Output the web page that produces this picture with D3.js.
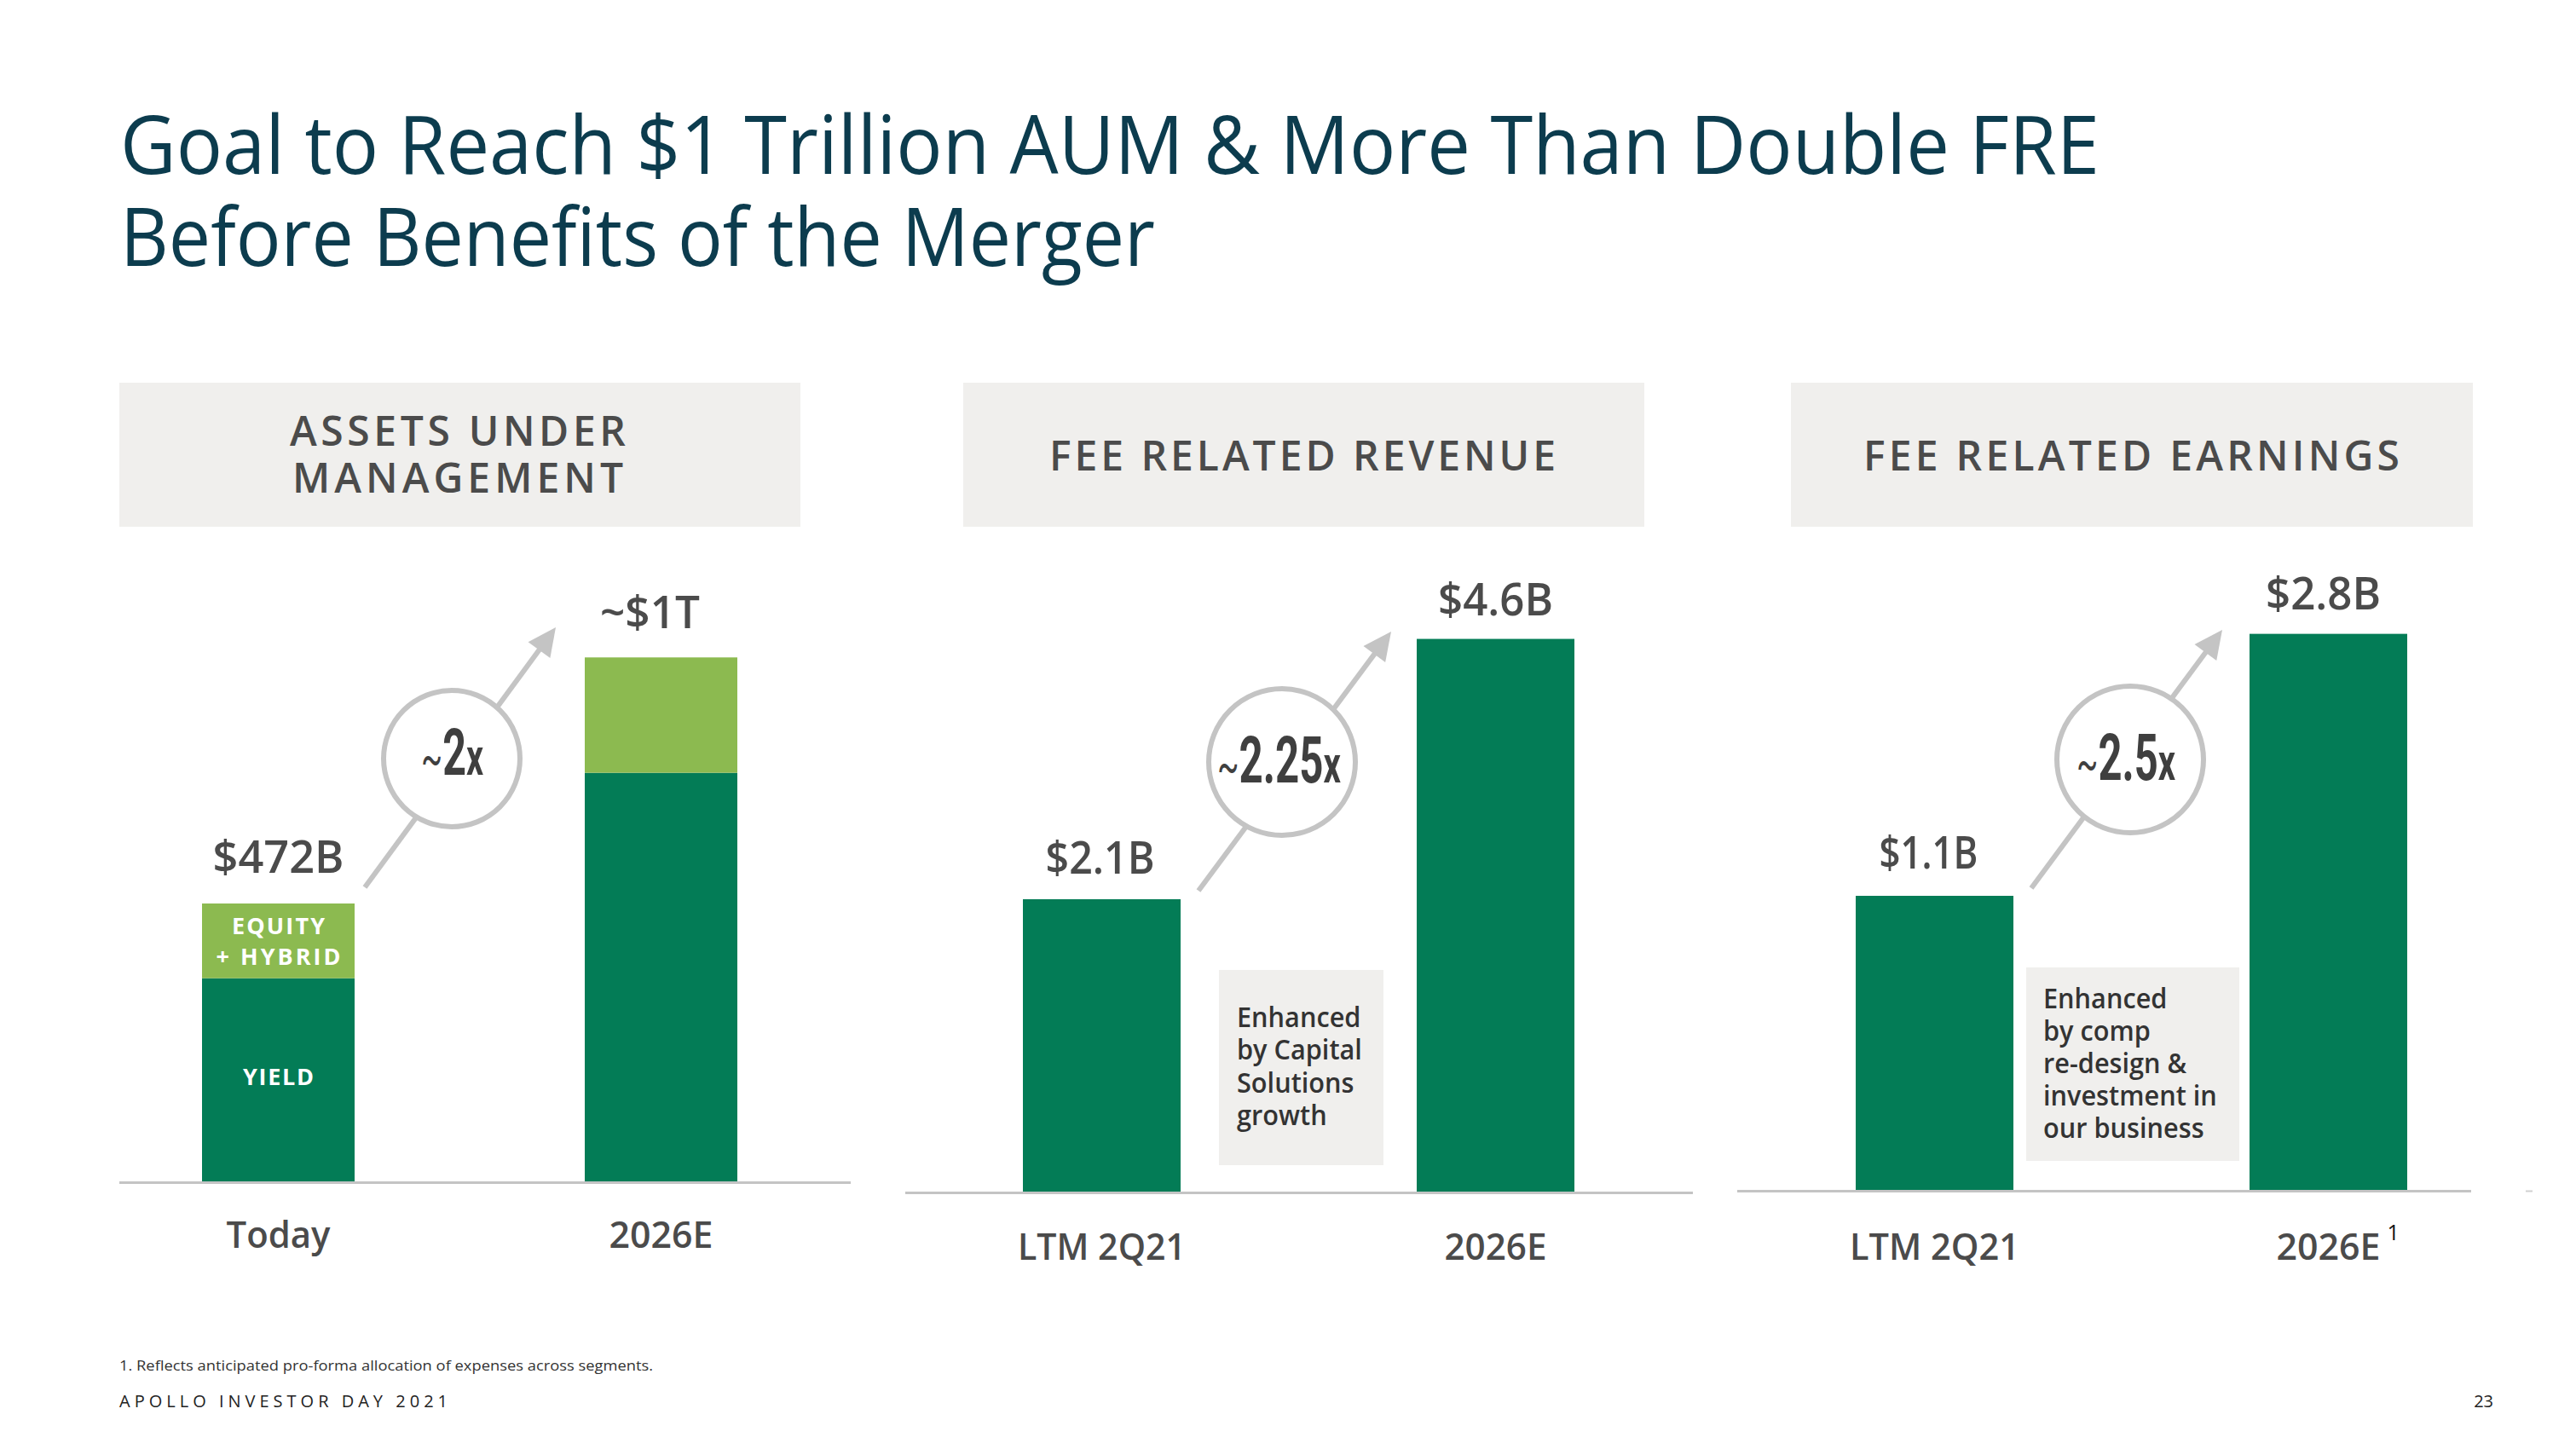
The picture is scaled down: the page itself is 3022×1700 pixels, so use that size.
<!DOCTYPE html>
<html><head><meta charset="utf-8">
<script src="https://cdn.jsdelivr.net/npm/d3@7"></script>
<style>
html,body{margin:0;padding:0;background:#fff;}
svg{display:block;}
</style></head><body>
<svg id="chart" width="3022" height="1700"></svg>
<script>
// ---------------- DATA ----------------
const titleLines = ["Goal to Reach $1 Trillion AUM & More Than Double FRE", "Before Benefits of the Merger"];

const aumCategories = ["Today", "2026E"];
const aumYield = [345, 694];          // dark green segment (as drawn)
const aumEquityHybrid = [127, 196];   // light green segment (as drawn)
const aumLabels = ["$472B", "~$1T"];
const aumMultiple = "2";

const frrCategories = ["LTM 2Q21", "2026E"];
const frrValues = [2.1, 3.97];        // bar heights as drawn
const frrLabels = ["$2.1B", "$4.6B"];
const frrMultiple = "2.25";

const freCategories = ["LTM 2Q21", "2026E"];
const freValues = [1.1, 2.08];        // bar heights as drawn
const freLabels = ["$1.1B", "$2.8B"];
const freMultiple = "2.5";

const panelTitles = [["ASSETS UNDER", "MANAGEMENT"], ["FEE RELATED REVENUE"], ["FEE RELATED EARNINGS"]];
const segmentLabels = { equity: ["EQUITY", "+ HYBRID"], yield: ["YIELD"] };
const frrNote = ["Enhanced", "by Capital", "Solutions", "growth"];
const freNote = ["Enhanced", "by comp", "re-design &", "investment in", "our business"];
const footnote = "1. Reflects anticipated pro-forma allocation of expenses across segments.";
const footer = "APOLLO INVESTOR DAY 2021";
const pageNumber = "23";

// ---------------- STYLE ----------------
const FONT = "'Open Sans', 'Noto Sans', sans-serif";
const COND = "Roboto, 'Open Sans', sans-serif";
const GREEN = "#037c56", LIGHT = "#8cba50", TXT = "#4b4b4b", BOXC = "#f0efed", AXIS = "#c4c4c4", TITLE = "#0c3c4e";

const svg = d3.select("#chart");
svg.append("rect").attr("width", 3022).attr("height", 1700).attr("fill", "#fff");

function fit(sel, w, adj) { sel.attr("textLength", w).attr("lengthAdjust", adj || "spacingAndGlyphs"); return sel; }

// Title
[[titleLines[0], 204, 2322], [titleLines[1], 312, 1214]].forEach(([t, y, w]) => {
  fit(svg.append("text").attr("x", 141).attr("y", y).attr("font-family", FONT).attr("font-size", 95)
    .attr("fill", TITLE).text(t), w);
});

// ---------------- PANELS ----------------
const panels = [
  { box: [140, 449, 939, 618], headRows: [[340, 523, 394], [343, 578, 388]],
    cats: aumCategories, stacked: true, labels: aumLabels, mult: aumMultiple,
    barL: 237, barR: 865, bw: 179, base: 1386, top0: 1060, axis: [140, 998], catY: 1464, catW: [122, 122],
    lab: [[0, -36, 154], [-13, -34, 117]],
    arrow: { s: [428, 1041], t: [652, 736], c: [530, 890, 83], tb: 909, tw: 73, tx: 530.5 } },
  { box: [1130, 449, 1929, 618], headRows: [[1231, 552, 594]],
    cats: frrCategories, values: frrValues, labels: frrLabels, mult: frrMultiple,
    barL: 1200, barR: 1847, bw: 185, base: 1398, top0: 1055, axis: [1062, 1986], catY: 1478, catW: [197, 120],
    lab: [[-2, -30, 128], [0, -28, 135]],
    arrow: { s: [1406, 1045], t: [1632, 741], c: [1504, 894, 89], tb: 918, tw: 145, tx: 1500.5 },
    note: { lines: frrNote, rect: [1430, 1138, 1623, 1367], x: 1451, y0: 1205, dy: 38.5 } },
  { box: [2101, 449, 2901, 618], headRows: [[2186, 552, 629]],
    cats: freCategories, values: freValues, labels: freLabels, mult: freMultiple,
    barL: 2177, barR: 2824, bw: 185, base: 1396, top0: 1051, axis: [2038, 2899], catY: 1478, catW: [199, 122],
    lab: [[-7, -32, 116], [-6, -29, 135]],
    arrow: { s: [2383, 1042], t: [2607, 739], c: [2499, 891, 89], tb: 915, tw: 116, tx: 2494 },
    note: { lines: freNote, rect: [2377, 1135, 2627, 1362], x: 2397, y0: 1183, dy: 38 }, sup: true }
];

panels.forEach((p, i) => {
  const g = svg.append("g");
  // header box
  g.append("rect").attr("x", p.box[0]).attr("y", p.box[1]).attr("width", p.box[2] - p.box[0])
    .attr("height", p.box[3] - p.box[1]).attr("fill", BOXC);
  panelTitles[i].forEach((t, k) => {
    const r = p.headRows[k];
    fit(g.append("text").attr("x", r[0]).attr("y", r[1]).attr("font-family", FONT).attr("font-size", 48)
      .attr("font-weight", 600).attr("fill", TXT).text(t), r[2], "spacing");
  });

  // scales
  const step = (p.barR - p.bw) - p.barL;
  const pin = 1 - p.bw / step;
  const po = 0.5;
  const x = d3.scaleBand().domain(p.cats)
    .range([p.barL - po * step, p.barR + po * step]).paddingInner(pin).paddingOuter(po);
  const firstTotal = p.stacked ? aumYield[0] + aumEquityHybrid[0] : p.values[0];
  const y = d3.scaleLinear().domain([0, firstTotal]).range([p.base, p.top0]);

  // note box (behind)
  if (p.note) {
    const n = p.note;
    g.append("rect").attr("x", n.rect[0]).attr("y", n.rect[1]).attr("width", n.rect[2] - n.rect[0])
      .attr("height", n.rect[3] - n.rect[1]).attr("fill", BOXC);
    const nt = g.append("text").attr("font-family", FONT).attr("font-size", 33).attr("font-weight", 600)
      .attr("fill", "#333").attr("transform", `translate(${n.x},${n.y0}) scale(0.93,1)`);
    n.lines.forEach((l, k) => nt.append("tspan").attr("x", 0).attr("y", k * n.dy).text(l));
  }

  // bars
  let totals;
  if (p.stacked) {
    const rows = p.cats.map((c, k) => ({ cat: c, yield: aumYield[k], equity: aumEquityHybrid[k] }));
    const series = d3.stack().keys(["yield", "equity"])(rows);
    const colors = { yield: GREEN, equity: LIGHT };
    series.forEach(s => {
      g.selectAll(null).data(s).join("rect")
        .attr("x", d => x(d.data.cat)).attr("width", x.bandwidth())
        .attr("y", d => y(d[1])).attr("height", d => y(d[0]) - y(d[1]))
        .attr("fill", colors[s.key]);
    });
    totals = rows.map(r => r.yield + r.equity);
    // segment labels on first bar
    const cx = x(p.cats[0]) + x.bandwidth() / 2;
    const eqMid = (y(aumYield[0]) + y(aumYield[0] + aumEquityHybrid[0])) / 2;
    const lw = { "EQUITY": 109, "+ HYBRID": 146, "YIELD": 83 };
    segmentLabels.equity.forEach((t, k) => {
      fit(g.append("text").attr("x", cx).attr("y", eqMid - 8 + k * 36).attr("text-anchor", "middle")
        .attr("font-family", FONT).attr("font-size", 27).attr("font-weight", 700).attr("fill", "#fff").text(t), lw[t], "spacing");
    });
    const yMid = (y(0) + y(aumYield[0])) / 2;
    fit(g.append("text").attr("x", cx).attr("y", yMid + 6).attr("text-anchor", "middle")
      .attr("font-family", FONT).attr("font-size", 27).attr("font-weight", 700).attr("fill", "#fff").text("YIELD"), lw["YIELD"], "spacing");
  } else {
    g.selectAll(null).data(p.cats.map((c, k) => ({ cat: c, v: p.values[k] }))).join("rect")
      .attr("x", d => x(d.cat)).attr("width", x.bandwidth())
      .attr("y", d => y(d.v)).attr("height", d => y(0) - y(d.v)).attr("fill", GREEN);
    totals = p.values;
  }

  // baseline
  g.append("line").attr("x1", p.axis[0]).attr("x2", p.axis[1]).attr("y1", p.base + 1.5).attr("y2", p.base + 1.5)
    .attr("stroke", AXIS).attr("stroke-width", 3);
  if (i === 2) {
    g.append("line").attr("x1", 2963).attr("x2", 2971).attr("y1", p.base + 1.5).attr("y2", p.base + 1.5)
      .attr("stroke", "#d0d0d0").attr("stroke-width", 2);
  }

  // category axis
  const ax = g.append("g").attr("transform", `translate(0,${p.base})`)
    .call(d3.axisBottom(x).tickSize(0).tickPadding(0));
  ax.select(".domain").remove();
  ax.attr("font-family", null).attr("font-size", null);
  ax.selectAll(".tick text")
    .attr("y", p.catY - p.base).attr("dy", 0)
    .attr("font-family", FONT).attr("font-size", 43).attr("font-weight", 600).attr("fill", TXT)
    .each(function (d, k) { fit(d3.select(this), p.catW[k]); });
  if (p.sup) {
    const cx = x(p.cats[1]) + x.bandwidth() / 2;
    g.append("text").attr("x", cx + p.catW[1] / 2 + 8).attr("y", p.catY - 23)
      .attr("font-family", FONT).attr("font-size", 25).attr("fill", "#111").text("1");
  }

  // value labels
  p.labels.forEach((t, k) => {
    const cx = x(p.cats[k]) + x.bandwidth() / 2 + p.lab[k][0];
    fit(g.append("text").attr("x", cx).attr("y", y(totals[k]) + p.lab[k][1]).attr("text-anchor", "middle")
      .attr("font-family", FONT).attr("font-size", 53).attr("font-weight", 600).attr("fill", TXT).text(t), p.lab[k][2]);
  });

  // growth arrow + circle
  const a = p.arrow;
  const dx = a.t[0] - a.s[0], dy = a.t[1] - a.s[1], len = Math.hypot(dx, dy);
  const ux = dx / len, uy = dy / len, nx = -uy, ny = ux;
  const L = 33, W = 16;
  const bx = a.t[0] - ux * L, by = a.t[1] - uy * L;
  g.append("line").attr("x1", a.s[0]).attr("y1", a.s[1]).attr("x2", bx + ux * 2).attr("y2", by + uy * 2)
    .attr("stroke", AXIS).attr("stroke-width", 6);
  g.append("path").attr("d", `M${a.t[0]},${a.t[1]}L${bx + nx * W},${by + ny * W}L${bx - nx * W},${by - ny * W}Z`)
    .attr("fill", AXIS);
  g.append("circle").attr("cx", a.c[0]).attr("cy", a.c[1]).attr("r", a.c[2] - 3)
    .attr("fill", "#fff").attr("stroke", AXIS).attr("stroke-width", 6);
  const mt = g.append("text").attr("text-anchor", "middle").attr("font-family", COND).attr("font-weight", 700)
    .attr("fill", "#3f3f3f").attr("font-size", 76);
  mt.append("tspan").attr("font-size", 58).attr("font-weight", 400).text("~");
  mt.append("tspan").text(p.mult);
  mt.append("tspan").attr("font-size", 62).text("x");
  const nat = mt.node().getComputedTextLength();
  mt.attr("transform", `translate(${a.tx},${a.tb}) scale(${a.tw / nat},1)`);
});

// footer
fit(svg.append("text").attr("x", 140).attr("y", 1608).attr("font-family", FONT).attr("font-size", 17)
  .attr("fill", "#333").text(footnote), 626);
fit(svg.append("text").attr("x", 140).attr("y", 1651).attr("font-family", FONT).attr("font-size", 20)
  .attr("fill", "#222").text(footer), 385, "spacing");
svg.append("text").attr("x", 2925).attr("y", 1651).attr("text-anchor", "end").attr("font-family", FONT)
  .attr("font-size", 20).attr("fill", "#222").text(pageNumber);
</script>
</body></html>
